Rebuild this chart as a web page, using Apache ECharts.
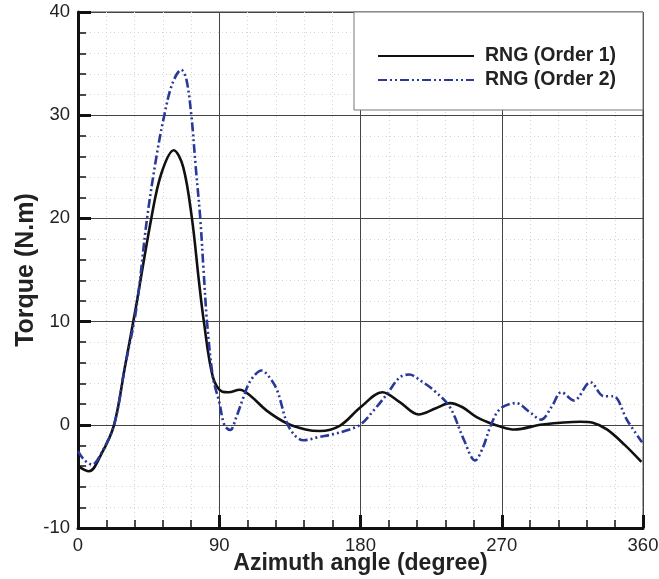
<!DOCTYPE html>
<html>
<head>
<meta charset="utf-8">
<script src="https://cdn.jsdelivr.net/npm/echarts@6/dist/echarts.min.js"></script>
<style>html,body{margin:0;padding:0;background:#fff}#c{width:659px;height:579px}</style>
</head>
<body>
<div id="c"></div>
<script>
// Azimuth angle (degree) and torque (N.m)
var angles1 = [0, 7, 15, 23, 30, 37, 46.7, 53, 61, 67, 72.6, 77, 80.2, 86, 92, 96, 103, 110, 120, 133, 145, 154, 167, 180, 194, 205, 217, 228, 237, 245, 254, 262, 269, 278, 296, 320, 328, 337, 348, 359];
var torque1 = [-4.0, -4.5, -2.8, 0, 5.7, 11.5, 20, 24.3, 26.6, 25.0, 20, 14, 10, 4.6, 3.2, 3.15, 3.4, 2.8, 1.4, 0.15, -0.45, -0.6, -0.07, 1.7, 3.16, 2.2, 1.0, 1.6, 2.1, 1.7, 0.74, 0.2, -0.16, -0.45, 0.03, 0.3, 0.2, -0.45, -1.9, -3.6];

var angles2 = [0, 4, 9, 15, 23, 30, 37, 44, 50, 55, 60, 65.8, 69, 72.2, 75, 77.9, 80, 82.2, 86, 90, 93.4, 97, 101, 105.5, 110, 117, 122, 127, 133, 138, 143.7, 153, 163, 172, 180, 189, 197, 205, 211, 219, 227, 237, 246, 253, 258, 263, 269, 279, 288, 295, 302, 308, 316, 326.5, 335, 341, 350, 359.4];
var torque2 = [-2.55, -3.4, -3.85, -2.7, 0, 5.7, 11.1, 20, 26, 30, 33, 34.4, 33.5, 30, 25, 20, 15, 10, 4.6, 2.2, -0.07, -0.5, 0.8, 2.7, 4.3, 5.26, 4.6, 3.3, 0.25, -1.0, -1.5, -1.2, -0.9, -0.5, 0.03, 1.5, 3.0, 4.6, 4.87, 4.2, 3.3, 1.7, -1.5, -3.46, -2.2, -0.07, 1.55, 2.1, 1.2, 0.5, 1.8, 3.16, 2.35, 4.13, 2.77, 2.77, 0.42, -1.7];

var seriesNames = ['RNG (Order 1)', 'RNG (Order 2)'];
var xTicks = [0, 90, 180, 270, 360];
var yTicks = [-10, 0, 10, 20, 30, 40];

function zip(a, b) { return a.map(function (v, i) { return [v, b[i]]; }); }

var FONT = '"Liberation Sans", Arial, Helvetica, sans-serif';
var chart = echarts.init(document.getElementById('c'), null, {renderer: 'canvas'});

function axisCommon() {
  return {
    nameMoveOverlap: false,
    axisLine: {show: true, onZero: false, lineStyle: {color: '#111', width: 3}},
    axisTick: {show: true, inside: true, length: 13, lineStyle: {color: '#111', width: 3}},
    minorTick: {show: true, splitNumber: 5, length: 8, lineStyle: {color: '#111', width: 1.5}},
    splitLine: {show: true, lineStyle: {color: '#444', width: 1}},
    minorSplitLine: {show: true, lineStyle: {color: '#d4d4d4', width: 1, type: [1, 3]}},
    axisLabel: {color: '#222', fontSize: 18.5, fontFamily: FONT},
    nameTextStyle: {color: '#222', fontSize: 23, fontWeight: 'bold', fontFamily: FONT}
  };
}

var xa = axisCommon();
xa.type = 'value'; xa.min = xTicks[0]; xa.max = xTicks[xTicks.length - 1]; xa.interval = 90;
xa.name = 'Azimuth angle (degree)'; xa.nameLocation = 'middle'; xa.nameGap = 24;
xa.axisLabel.margin = 8;

var ya = axisCommon();
ya.type = 'value'; ya.min = yTicks[0]; ya.max = yTicks[yTicks.length - 1]; ya.interval = 10;
ya.name = 'Torque (N.m)'; ya.nameLocation = 'middle'; ya.nameGap = 39;
ya.nameTextStyle.fontSize = 25;
ya.axisLabel.margin = 8;

chart.setOption({
  animation: false,
  backgroundColor: '#fff',
  grid: {left: 78, top: 12, width: 565, height: 516, containLabel: false, outerBoundsMode: 'none',
         show: true, borderColor: '#444', borderWidth: 1, backgroundColor: 'transparent'},
  xAxis: xa,
  yAxis: ya,
  graphic: [{
    type: 'rect', z: 10,
    shape: {x: 354, y: 12, width: 289, height: 98},
    style: {fill: '#fff', stroke: '#777', lineWidth: 1}
  }],
  legend: {
    z: 20,
    orient: 'vertical',
    left: 372, top: 41,
    itemWidth: 96, itemHeight: 20, itemGap: 4,
    itemStyle: {opacity: 0},
    textStyle: {color: '#222', fontSize: 19.5, fontWeight: 'bold', fontFamily: FONT, padding: [0, 0, 0, 6]},
    data: seriesNames
  },
  series: [
    {
      name: seriesNames[0], type: 'line', symbol: 'none', smooth: 0.35, z: 3,
      lineStyle: {color: '#111', width: 2.6},
      itemStyle: {color: '#111'},
      data: zip(angles1, torque1)
    },
    {
      name: seriesNames[1], type: 'line', symbol: 'none', smooth: 0.35, z: 4,
      lineStyle: {color: '#2a3898', width: 2.6, type: [9, 3, 2, 3, 2, 3]},
      itemStyle: {color: '#2a3898'},
      data: zip(angles2, torque2)
    }
  ]
});
</script>
</body>
</html>
